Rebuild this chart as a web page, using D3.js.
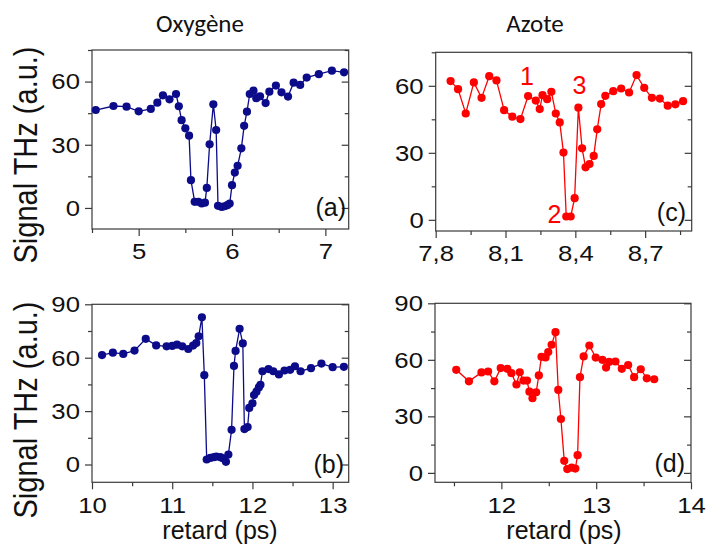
<!DOCTYPE html>
<html><head><meta charset="utf-8">
<script src="https://cdn.jsdelivr.net/npm/d3@7"></script>
<style>body{margin:0;background:#fff;} svg{display:block;}</style>
</head><body><svg id="chart" width="707" height="544"></svg>
<script>
// ---------- DATA ----------
const titles = ["Oxygène", "Azote"];
const yLabel = "Signal THz (a.u.)";
const xLabel = "retard (ps)";
const panelLabels = ["(a)", "(b)", "(c)", "(d)"];
const peakLabels = ["1", "2", "3"];
const peakX = [8.192, 8.31, 8.418];
const peakY = [60.3, -1.3, 56.3];

// (a) Oxygène, upper
const aDelay = [4.54,4.73,4.87,5.0,5.13,5.2,5.26,5.33,5.4,5.43,5.46,5.5,5.54,5.56,5.6,5.64,5.675,5.71,5.73,5.76,5.8,5.83,5.85,5.89,5.92,5.95,5.975,6.0,6.03,6.06,6.1,6.13,6.16,6.19,6.23,6.26,6.3,6.36,6.4,6.47,6.53,6.6,6.66,6.73,6.8,6.93,7.07,7.2];
const aSignal = [46.5,48.4,48.1,45.9,47.0,50,53.5,51.6,54.1,48.3,41.7,37.8,34.3,13.2,2.9,2.9,2.1,2.5,9.5,30.2,49.2,37,1,0.5,0.8,1.3,2.1,10.8,16.8,20,28.3,39,45.7,54.1,55.7,52.1,53,49.8,55.2,58.1,54.9,52.9,59.5,58.4,61.9,63.5,65.2,64.4];

// (b) Oxygène, lower
const bDelay = [10.125,10.26,10.39,10.53,10.67,10.8,10.93,11.0,11.06,11.125,11.2,11.26,11.3,11.33,11.37,11.4,11.43,11.475,11.52,11.55,11.6,11.63,11.67,11.7,11.74,11.77,11.79,11.84,11.88,11.9,11.94,11.96,12.0,12.02,12.05,12.08,12.1,12.125,12.2,12.26,12.33,12.4,12.47,12.53,12.6,12.73,12.86,13.0,13.14];
const bSignal = [61.5,62.8,62.1,64,70.6,66.9,66.4,66.6,67.3,66.4,64.9,66.8,68.2,72,82.7,50.2,2.8,3.7,4.1,4.5,4.1,3.5,1.5,5.6,19.5,55.4,63.8,76.2,68,19.9,21,31.8,34.4,39,40.9,43.3,44.8,52.4,53.6,52.4,50.6,52.8,53.2,55.2,52.4,54.1,56.7,54.7,54.9];

// (c) Azote, upper
const cDelay = [7.864,7.896,7.929,7.964,7.997,8.03,8.061,8.094,8.129,8.164,8.197,8.23,8.247,8.259,8.279,8.297,8.316,8.333,8.349,8.361,8.38,8.397,8.413,8.429,8.444,8.461,8.479,8.494,8.511,8.529,8.563,8.597,8.631,8.663,8.696,8.729,8.763,8.797,8.83,8.863];
const cSignal = [62.1,58.5,47.6,61.5,54.6,64.3,62.4,49.1,46.2,45.1,55.4,53.4,49.6,55.8,54,57.3,47.6,43.6,30.1,1.5,1.5,9.7,50.2,32,23.5,25,28.6,40.5,51.8,55.5,57.6,58.8,57,64.8,59.1,54.6,54.3,51.1,51.7,53.1];

// (d) Azote, lower
const dDelay = [11.524,11.658,11.79,11.86,11.926,11.993,12.063,12.106,12.159,12.194,12.233,12.27,12.296,12.328,12.367,12.395,12.423,12.466,12.494,12.53,12.571,12.6,12.628,12.663,12.695,12.741,12.78,12.804,12.829,12.868,12.928,12.995,13.065,13.104,13.136,13.203,13.27,13.337,13.4,13.47,13.534,13.612];
const dSignal = [54.7,48.6,53.3,53.8,48.6,55.6,55.2,52.9,46.9,53.4,49,49,43.1,39.6,42.8,51.7,61.6,61.3,64.1,68,74.7,44,28.6,6.4,2,2.8,2.3,9.4,50.8,61.8,67.6,61.2,60,55.9,58.9,59.1,55.2,57.2,50.8,55,50.2,49.7];

// axis ticks
const aXMajor = [5,6,7],            aXMinor = [4.5,5.5,6.5];
const bXMajor = [10,11,12,13],      bXMinor = [10.5,11.5,12.5];
const cXMajor = [7.8,8.1,8.4,8.7],  cXMinor = [7.95,8.25,8.55,8.85];
const dXMajor = [12,13,14],         dXMinor = [11.5,12.5,13.5];
const upperYMajor = [0,30,60],      upperYMinor = [15,45,75];
const lowerYMajor = [0,30,60,90],   lowerYMinor = [15,45,75];

// ---------- DRAW ----------
const svg = d3.select("#chart");
const BLUE = "#0c0c8a", RED = "#ff0000", AX = "#3a3a3a";
const FONT = "Arial, 'Liberation Sans', Helvetica, sans-serif";

const panels = [
  {x: aDelay, y: aSignal, color: BLUE, xd: [4.5,7.25], yd: [-10,75], box: [92,348.7,50,229],
   xM: aXMajor, xm: aXMinor, yM: upperYMajor, ym: upperYMinor, lab: panelLabels[0], lx: 346, ly: 216, fmt: d3.format("d")},
  {x: bDelay, y: bSignal, color: BLUE, xd: [10,13.2], yd: [-10,90], box: [92,348.7,304.3,482.3],
   xM: bXMajor, xm: bXMinor, yM: lowerYMajor, ym: lowerYMinor, lab: panelLabels[1], lx: 344, ly: 473, fmt: d3.format("d")},
  {x: cDelay, y: cSignal, color: RED, xd: [7.8,8.9], yd: [-5,75], box: [435.7,691.7,52.3,231],
   xM: cXMajor, xm: cXMinor, yM: upperYMajor, ym: upperYMinor, lab: panelLabels[2], lx: 686, ly: 220.5, fmt: d => d.toFixed(1).replace(".", ",")},
  {x: dDelay, y: dSignal, color: RED, xd: [11.3,14], yd: [-5,90], box: [435,691,303.3,482.3],
   xM: dXMajor, xm: dXMinor, yM: lowerYMajor, ym: lowerYMinor, lab: panelLabels[3], lx: 685, ly: 471.5, fmt: d3.format("d")}
];

const SX = 1.12; // horizontal stretch of tick labels

panels.forEach((p, i) => {
  const [L, R, T, B] = p.box;
  const x = d3.scaleLinear().domain(p.xd).range([L, R]);
  const y = d3.scaleLinear().domain(p.yd).range([B, T]);
  const g = svg.append("g");

  function style(sel) {
    sel.select(".domain").remove();
    sel.selectAll("line").attr("stroke", AX).attr("stroke-width", 1.2);
    sel.selectAll("text").attr("fill", "#111").style("font-family", FONT).style("font-size", "23px");
  }
  // bottom
  g.append("g").attr("transform", `translate(0,${B})`)
    .call(d3.axisBottom(x).tickValues(p.xm).tickSize(4).tickFormat("")).call(style);
  const bx = g.append("g").attr("transform", `translate(0,${B})`)
    .call(d3.axisBottom(x).tickValues(p.xM).tickSize(7).tickPadding(7).tickFormat(p.fmt)).call(style);
  bx.selectAll("text").attr("transform", `scale(${SX},1)`);
  // left
  g.append("g").attr("transform", `translate(${L},0)`)
    .call(d3.axisLeft(y).tickValues(p.ym).tickSize(4).tickFormat("")).call(style);
  const ly = g.append("g").attr("transform", `translate(${L},0)`)
    .call(d3.axisLeft(y).tickValues(p.yM).tickSize(7).tickPadding(5).tickFormat(d3.format("d"))).call(style);
  ly.selectAll("text").attr("x", -12 / SX).attr("transform", `scale(${SX},1)`);
  // right (inward)
  g.append("g").attr("transform", `translate(${R},0)`)
    .call(d3.axisLeft(y).tickValues(p.ym).tickSize(4).tickFormat("")).call(style);
  g.append("g").attr("transform", `translate(${R},0)`)
    .call(d3.axisLeft(y).tickValues(p.yM).tickSize(7).tickFormat("")).call(style);
  // frame
  g.append("rect").attr("x", L).attr("y", T).attr("width", R - L).attr("height", B - T)
    .attr("fill", "none").attr("stroke", AX).attr("stroke-width", 1.2);

  const pts = p.x.map((v, k) => [v, p.y[k]]);
  g.append("path").datum(pts)
    .attr("d", d3.line().x(d => x(d[0])).y(d => y(d[1])))
    .attr("fill", "none").attr("stroke", p.color).attr("stroke-width", 1.3);
  g.selectAll("circle").data(pts).join("circle")
    .attr("cx", d => x(d[0])).attr("cy", d => y(d[1])).attr("r", 4.1).attr("fill", p.color);

  g.append("text").attr("x", p.lx).attr("y", p.ly).attr("text-anchor", "end")
    .style("font-family", FONT).style("font-size", "25px").attr("fill", "#111").text(p.lab);

  if (i === 2) {
    peakLabels.forEach((t, k) => {
      g.append("text").attr("x", x(peakX[k])).attr("y", y(peakY[k])).attr("text-anchor", "middle")
        .style("font-family", FONT).style("font-size", "25px").attr("fill", RED).text(t);
    });
  }
});

// titles
const TFONT = "Carlito, Lato, 'Open Sans', sans-serif";
svg.append("text").attr("x", 200).attr("y", 32).attr("text-anchor", "middle")
  .style("font-family", TFONT).style("font-size", "25px").attr("fill", "#111").text(titles[0]);
svg.append("text").attr("x", 535).attr("y", 32).attr("text-anchor", "middle")
  .style("font-family", TFONT).style("font-size", "25px").attr("fill", "#111").text(titles[1]);

// y labels
[155, 410].forEach(cy => {
  svg.append("text").attr("transform", `translate(37,${cy}) scale(1.15,1) rotate(-90)`).attr("text-anchor", "middle")
    .style("font-family", FONT).style("font-size", "29px").attr("fill", "#111").text(yLabel);
});
// x labels
[220, 564].forEach(cx => {
  svg.append("text").attr("x", cx).attr("y", 539).attr("text-anchor", "middle")
    .style("font-family", FONT).style("font-size", "25px").attr("fill", "#111").text(xLabel);
});
</script></body></html>
